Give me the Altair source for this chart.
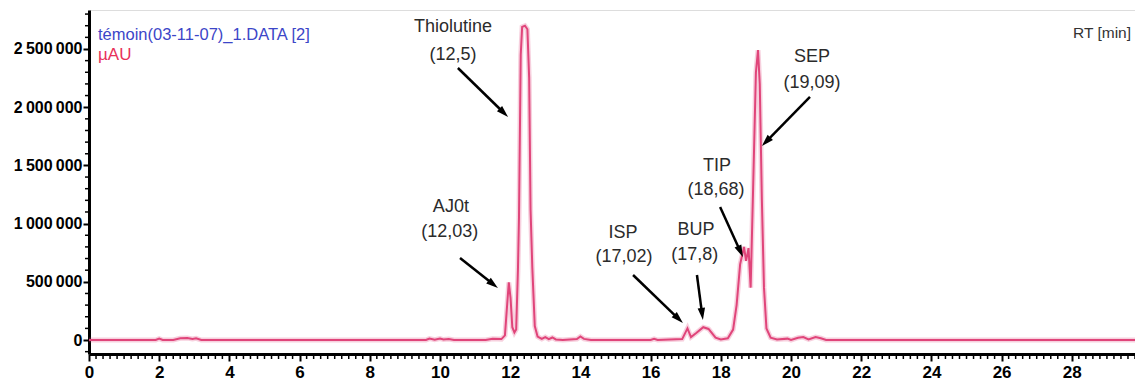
import math
import altair as alt
import pandas as pd

# ---- chromatogram trace (retention time [min], signal [µAU]) ----
rt_min = [0.0, 1.9, 2.0, 2.1, 2.4, 2.6, 2.8, 2.95, 3.05, 3.2,
          9.6, 9.7, 9.85, 10.0, 10.1, 10.25, 10.4, 11.3, 11.5, 11.75,
          11.85, 11.9, 11.96, 12.01, 12.06, 12.12, 12.17, 12.22, 12.25, 12.3,
          12.34, 12.42, 12.49, 12.54, 12.58, 12.63, 12.7, 12.78, 12.9, 13.0,
          13.1, 13.2, 13.3, 13.5, 13.9, 14.0, 14.1, 14.3, 16.0, 16.1,
          16.2, 16.9, 17.05, 17.15, 17.3, 17.5, 17.65, 17.85, 18.0, 18.2,
          18.35, 18.45, 18.55, 18.66, 18.72, 18.79, 18.85, 18.92, 19.0, 19.06,
          19.11, 19.17, 19.23, 19.3, 19.42, 19.6, 19.9, 20.0, 20.2, 20.35,
          20.5, 20.7, 20.85, 21.0, 29.8]
signal_uau = [0, 0, 12000, 0, 0, 15000, 18000, 10000, 15000, 0,
              0, 12000, 3000, 12000, 4000, 8000, 0, 0, 10000, 8000,
              40000, 250000, 495000, 360000, 110000, 65000, 90000, 600000, 1050000, 2450000,
              2690000, 2700000, 2670000, 2250000, 1120000, 620000, 120000, 30000, 10000, 25000,
              8000, 22000, 5000, 0, 8000, 30000, 10000, 0, 0, 10000,
              0, 8000, 100000, 25000, 60000, 110000, 95000, 20000, 5000, 15000,
              90000, 300000, 650000, 800000, 680000, 790000, 450000, 1300000, 2300000, 2490000,
              2200000, 1200000, 450000, 100000, 20000, 5000, 12000, 0, 20000, 25000,
              5000, 25000, 15000, 0, 0]

# ---- peak annotations ----
peak_names = ["Thiolutine", "AJ0t", "ISP", "BUP", "TIP", "SEP"]
peak_rts = ["(12,5)", "(12,03)", "(17,02)", "(17,8)", "(18,68)", "(19,09)"]
name_t = [10.37, 10.31, 15.21, 17.29, 17.89, 20.6]
name_v = [2689000, 1142700, 919000, 945000, 1495000, 2431000]
rt_t = [10.37, 10.28, 15.24, 17.26, 17.86, 20.6]
rt_v = [2448000, 928000, 713000, 730000, 1289000, 2208000]
arrow_t0 = [10.51, 10.57, 15.5, 17.32, 17.98, 20.54]
arrow_v0 = [2336800, 704700, 558700, 558700, 1142770, 2087670]
arrow_t1 = [11.94, 11.65, 16.92, 17.49, 18.63, 19.17]
arrow_v1 = [1915900, 447000, 146300, 172100, 713300, 1666760]

# axis ticks
x_major = list(range(0, 30, 2))
x_minor = [round(i * 0.2, 1) for i in range(0, 150) if i % 10 != 0]
y_major = [0, 500000, 1000000, 1500000, 2000000, 2500000]
y_minor = [i * 100000 for i in range(-1, 29) if i % 5 != 0]

# ---- layout ----
W, H = 1046, 344
X_DOM = [0, 29.8]
Y_DOM = [-120000, 2835000]
px_per_min = W / (X_DOM[1] - X_DOM[0])
val_per_px = (Y_DOM[1] - Y_DOM[0]) / H

TRACE = "#e0457a"
SANS = "Liberation Sans, Arial, sans-serif"

xs = alt.Scale(domain=X_DOM, nice=False, zero=False)
ys = alt.Scale(domain=Y_DOM, nice=False, zero=False)

x_axis = alt.Axis(
    values=x_major, title=None, grid=False, tickSize=7, tickWidth=2, tickColor="black",
    domainColor="black", domainWidth=3, labelFont=SANS, labelFontSize=17,
    labelFontWeight="bold", labelColor="black", labelPadding=3, labelFlush=False)
y_axis = alt.Axis(
    values=y_major, title=None, grid=False, tickSize=6, tickWidth=2, tickColor="black",
    domainColor="black", domainWidth=3, labelFont=SANS, labelFontSize=16,
    labelFontWeight="bold", labelColor="black", labelPadding=1,
    labelExpr="replace(format(datum.value, ','), /,/g, '\u2009')")


def X(field):
    return alt.X(field, scale=xs, axis=x_axis, title=None)


def Y(field):
    return alt.Y(field, scale=ys, axis=y_axis, title=None)


trace = pd.DataFrame({"t": rt_min, "v": signal_uau})

# arrows: shaft + head (head angle from pixel direction)
head_len = 12
rows = []
for t0, v0, t1, v1 in zip(arrow_t0, arrow_v0, arrow_t1, arrow_v1):
    dx = (t1 - t0) * px_per_min
    dy = -(v1 - v0) / val_per_px
    L = math.hypot(dx, dy)
    ux, uy = dx / L, dy / L
    ang = math.degrees(math.atan2(ux, -uy)) % 360
    hc = head_len / 2
    tc = t1 - ux * hc / px_per_min
    vc = v1 + uy * hc * val_per_px
    te = t1 - ux * (head_len - 2) / px_per_min
    ve = v1 + uy * (head_len - 2) * val_per_px
    rows.append({"t0": t0, "v0": v0, "te": te, "ve": ve, "tc": tc, "vc": vc, "ang": ang})
arrows = pd.DataFrame(rows)

labels = pd.DataFrame({"t": name_t + rt_t, "v": name_v + rt_v, "txt": peak_names + peak_rts})

halo = alt.Chart(trace).mark_line(color=TRACE, strokeWidth=5, opacity=0.25).encode(
    x=X("t:Q"), y=Y("v:Q"), order="t:Q")
line = alt.Chart(trace).mark_line(color=TRACE, strokeWidth=2).encode(
    x=X("t:Q"), y=Y("v:Q"), order="t:Q")

xminor = alt.Chart(pd.DataFrame({"t": x_minor})).mark_rule(color="black", strokeWidth=1.5).encode(
    x=X("t:Q"), y=alt.value(H), y2=alt.value(H + 5))
yminor = alt.Chart(pd.DataFrame({"v": y_minor})).mark_rule(color="black", strokeWidth=1.5).encode(
    y=Y("v:Q"), x=alt.value(-4), x2=alt.value(0))

shaft = alt.Chart(arrows).mark_rule(color="black", strokeWidth=2.5).encode(
    x=X("t0:Q"), y=Y("v0:Q"), x2="te:Q", y2="ve:Q")
head = alt.Chart(arrows).mark_point(
    shape="M0,-1L-0.62,1L0.62,1Z", filled=True, color="black", opacity=1, size=144).encode(
    x=X("tc:Q"), y=Y("vc:Q"), angle=alt.Angle("ang:Q", scale=None))

texts = alt.Chart(labels).mark_text(font=SANS, fontSize=18, color="#2b2b2b",
                                    align="center", baseline="middle").encode(
    x=X("t:Q"), y=Y("v:Q"), text="txt:N")

one = alt.Data(values=[{}])
file_txt = alt.Chart(one).mark_text(text="témoin(03-11-07)_1.DATA [2]", font=SANS, fontSize=16.5,
                                    color="#3c46c8", align="left", baseline="alphabetic").encode(
    x=alt.value(9), y=alt.value(30))
unit_txt = alt.Chart(one).mark_text(text="µAU", font=SANS, fontSize=17,
                                    color="#e8305a", align="left", baseline="alphabetic").encode(
    x=alt.value(9), y=alt.value(50))
rt_txt = alt.Chart(one).mark_text(text="RT [min]", font=SANS, fontSize=15.5,
                                  color="#333333", align="right", baseline="alphabetic").encode(
    x=alt.value(1042), y=alt.value(28))

chart = alt.layer(xminor, yminor, halo, line, shaft, head, texts, file_txt, unit_txt, rt_txt).properties(
    width=W, height=H,
    autosize=alt.AutoSizeParams(type="none"),
    padding={"left": 81, "top": 2, "right": 0, "bottom": 30},
).configure_view(stroke="#5a5a5a", strokeWidth=2.5).configure(background="white")

chart.save("out.html", embed_options={"renderer": "svg", "actions": False})
